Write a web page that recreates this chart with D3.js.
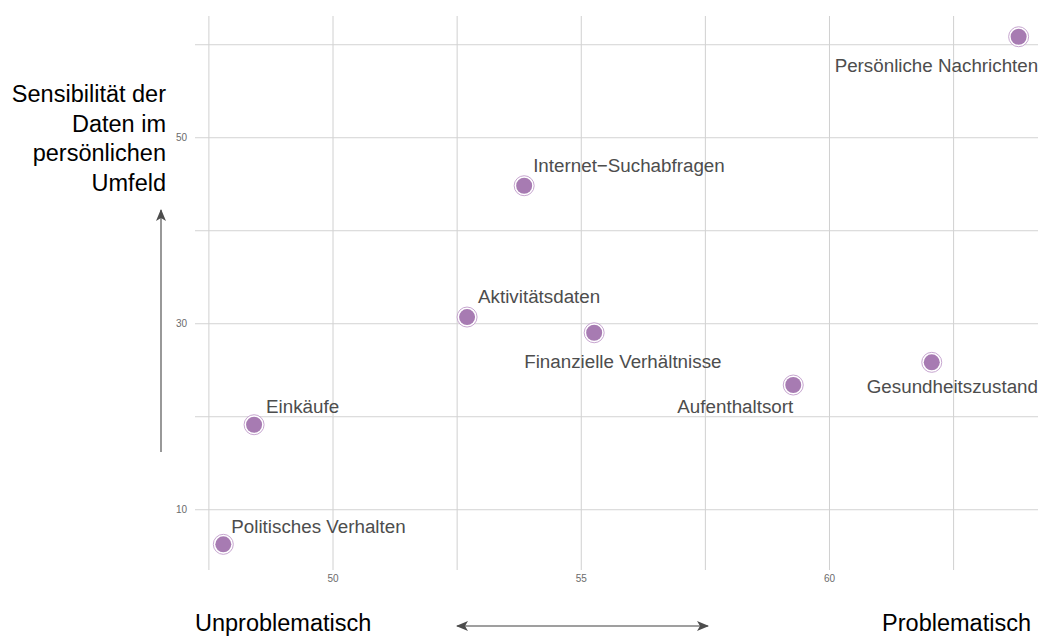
<!DOCTYPE html>
<html>
<head>
<meta charset="utf-8">
<script src="https://cdn.jsdelivr.net/npm/d3@7"></script>
<style>
  html, body { margin: 0; padding: 0; background: #fff; }
  svg { display: block; }
  text { font-family: "Liberation Sans", Arial, Helvetica, sans-serif; }
</style>
</head>
<body>
<svg id="chart" width="1042" height="636"></svg>
<script>
// ---- data ----
const categories = ["Politisches Verhalten", "Einkäufe", "Aktivitätsdaten", "Internet\u2212Suchabfragen",
                    "Finanzielle Verhältnisse", "Aufenthaltsort", "Gesundheitszustand", "Persönliche Nachrichten"];
const xValues = [47.79, 48.41, 52.70, 53.85, 55.26, 59.27, 62.06, 63.81];
const yValues = [6.28, 19.14, 30.72, 44.84, 29.03, 23.41, 25.85, 60.86];
const xTicks = [50, 55, 60];
const yTicks = [10, 30, 50];
const xMinor = [47.5, 52.5, 57.5, 62.5];
const yMinor = [20, 40, 60];
const yTitleLines = ["Sensibilität der", "Daten im", "persönlichen", "Umfeld"];
const xTitleLeft = "Unproblematisch";
const xTitleRight = "Problematisch";

// label placement (layout only): offset from point, anchor
const labelLayout = [
  {dx: 8, dy: -11, anchor: "start"},
  {dx: 12, dy: -12, anchor: "start"},
  {dx: 11, dy: -14, anchor: "start"},
  {dx: 9, dy: -14, anchor: "start"},
  {dx: -70, dy: 35, anchor: "start"},
  {dx: 0, dy: 28, anchor: "end"},
  {dx: -65, dy: 31, anchor: "start"},
  {dx: -184, dy: 35, anchor: "start"}
];

// ---- layout ----
const panel = {left: 195, right: 1038, top: 16, bottom: 570};
const x = d3.scaleLinear().domain([47.22, 64.2]).range([panel.left, panel.right]);
const y = d3.scaleLinear().domain([3.52, 63.09]).range([panel.bottom, panel.top]);

const svg = d3.select("#chart");
const defs = svg.append("defs");
defs.append("marker").attr("id", "ah")
  .attr("viewBox", "0 0 12 10").attr("refX", 11).attr("refY", 5)
  .attr("markerWidth", 12).attr("markerHeight", 10).attr("markerUnits", "userSpaceOnUse")
  .attr("orient", "auto-start-reverse")
  .append("path").attr("d", "M0,0 L12,5 L0,10 L3,5 Z").attr("fill", "#4d4d4d");

// gridlines
const grid = svg.append("g");
grid.selectAll("line.vx").data(xTicks.concat(xMinor)).join("line")
  .attr("x1", d => x(d)).attr("x2", d => x(d))
  .attr("y1", panel.top).attr("y2", panel.bottom)
  .attr("stroke", "#d0d0d0").attr("stroke-width", 1);
grid.selectAll("line.hy").data(yTicks.concat(yMinor)).join("line")
  .attr("y1", d => y(d)).attr("y2", d => y(d))
  .attr("x1", panel.left).attr("x2", panel.right)
  .attr("stroke", "#d3d3d3").attr("stroke-width", 1);

// tick labels
svg.append("g").selectAll("text").data(xTicks).join("text")
  .attr("x", d => x(d)).attr("y", 582)
  .attr("text-anchor", "middle").attr("font-size", 10).attr("fill", "#6b6b6b")
  .text(d => d);
svg.append("g").selectAll("text").data(yTicks).join("text")
  .attr("x", 187).attr("y", d => y(d) + 3.6)
  .attr("text-anchor", "end").attr("font-size", 10).attr("fill", "#6b6b6b")
  .text(d => d);

// points
const pts = svg.append("g").selectAll("g").data(categories).join("g")
  .attr("transform", (d, i) => `translate(${x(xValues[i])},${y(yValues[i])})`);
pts.append("circle").attr("r", 10).attr("fill", "#fff").attr("stroke", "#c7a6d0").attr("stroke-width", 1);
pts.append("circle").attr("r", 8).attr("fill", "#a77bb2");

// labels
svg.append("g").selectAll("text").data(categories).join("text")
  .attr("x", (d, i) => x(xValues[i]) + labelLayout[i].dx)
  .attr("y", (d, i) => y(yValues[i]) + labelLayout[i].dy)
  .attr("text-anchor", (d, i) => labelLayout[i].anchor)
  .attr("font-size", 18.8).attr("fill", "#4d4d4d")
  .text(d => d);

// y title
svg.append("g").selectAll("text").data(yTitleLines).join("text")
  .attr("x", 166).attr("y", (d, i) => 102 + i * 29.6)
  .attr("text-anchor", "end").attr("font-size", 23.5).attr("fill", "#000")
  .text(d => d);

// x titles
svg.append("text").attr("x", 195).attr("y", 631).attr("font-size", 23.5).attr("fill", "#000").text(xTitleLeft);
svg.append("text").attr("x", 1031).attr("y", 631).attr("text-anchor", "end").attr("font-size", 23.5).attr("fill", "#000").text(xTitleRight);

// arrows
svg.append("line").attr("x1", 161).attr("x2", 161).attr("y1", 452).attr("y2", 210)
  .attr("stroke", "#7f7f7f").attr("stroke-width", 1.6).attr("marker-end", "url(#ah)");
svg.append("line").attr("x1", 457).attr("x2", 708).attr("y1", 626).attr("y2", 626)
  .attr("stroke", "#7f7f7f").attr("stroke-width", 1.6)
  .attr("marker-start", "url(#ah)").attr("marker-end", "url(#ah)");
</script>
</body>
</html>
